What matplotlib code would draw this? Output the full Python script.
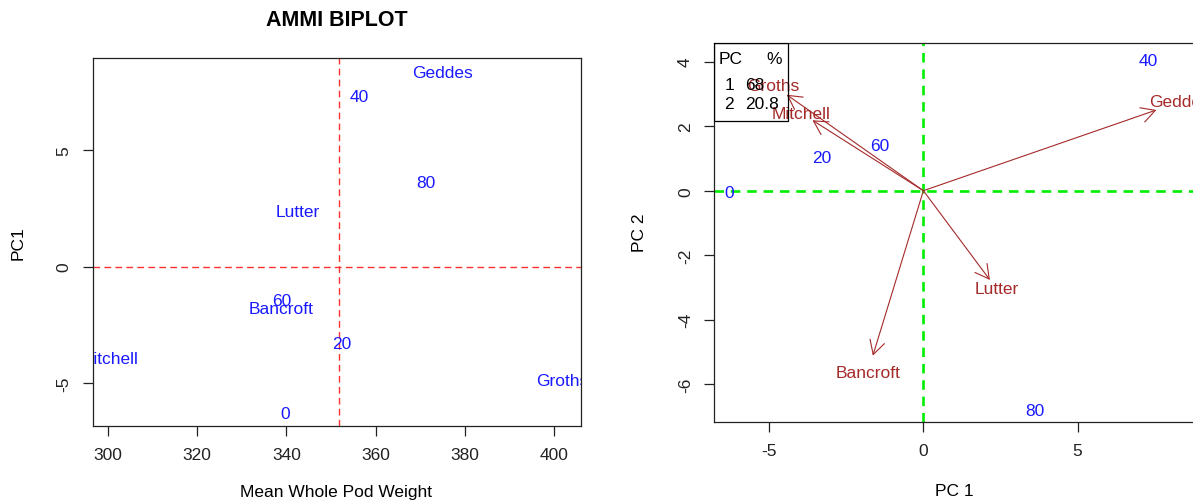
import matplotlib
matplotlib.use("Agg")
import matplotlib.pyplot as plt
from matplotlib.patches import Rectangle

plt.rcParams['font.family'] = ['Liberation Sans', 'DejaVu Sans']
plt.rcParams['font.size'] = 12.5
plt.rcParams['axes.unicode_minus'] = False

# genotypes
gen_names = ["Geddes", "Lutter", "Bancroft", "Mitchell", "Groths"]
gen_mean = [375.1, 342.5, 338.9, 300.2, 401.9]
gen_pc1 = [8.30, 2.37, -1.80, -3.95, -4.87]
gen_pc2 = [2.75, -3.04, -5.62, 2.40, 3.27]

# environments
env_names = ["0", "20", "40", "60", "80"]
env_mean = [339.8, 352.4, 356.4, 339.0, 371.2]
env_pc1 = [-6.28, -3.30, 7.30, -1.43, 3.62]
env_pc2 = [-0.06, 1.03, 4.05, 1.41, -6.80]

grand_mean = 351.9
pc_num = ["1", "2"]
pc_pct = ["68", "20.8"]

blue = "#1a1aff"
brown = "#a52a2a"


def label(ax, x, y, s, color):
    t = ax.text(x, y, s, color=color, ha="center", va="center")
    t.set_clip_box(ax.bbox)
    t.set_clip_on(True)


fig = plt.figure(figsize=(11.93, 5.02), dpi=100)

# ---- left: AMMI biplot (mean vs PC1)
ax1 = fig.add_axes([0.0776, 0.1494, 0.4090, 0.7331])
ax1.set_xlim(296.5, 406.0)
ax1.set_ylim(-6.82, 8.93)
ax1.axhline(0, color="#ff3030", lw=1.0, ls=(0, (4.8, 3.1)))
ax1.axvline(grand_mean, color="#ff3030", lw=1.0, ls=(0, (4.8, 3.1)))
for n, x, y in zip(gen_names, gen_mean, gen_pc1):
    label(ax1, x, y, n, blue)
for n, x, y in zip(env_names, env_mean, env_pc1):
    label(ax1, x, y, n, blue)
ax1.set_xticks([300, 320, 340, 360, 380, 400])
ax1.set_yticks([-5, 0, 5])
ax1.tick_params(axis="y", labelrotation=90)
for lab in ax1.get_yticklabels():
    lab.set_va("center")
ax1.tick_params(length=7, width=0.9, pad=8, colors="#222222")

fig.text(0.282, 0.96, "AMMI BIPLOT", ha="center", va="center",
         fontsize=15.5, fontweight="bold")
fig.text(336.5 / 1193, 1 - 493 / 502, "Mean Whole Pod Weight", ha="center", va="center")
fig.text(18 / 1193, 1 - 243 / 502, "PC1", ha="center", va="center", rotation=90)

# ---- right: biplot PC1 vs PC2
ax2 = fig.add_axes([0.5984, 0.1580, 0.4024, 0.7538])
ax2.set_xlim(-6.79, 8.77)
ax2.set_ylim(-7.16, 4.57)
ax2.axhline(0, color="#00ee00", lw=1.9, ls=(0, (3.6, 2.6)))
ax2.axvline(0, color="#00ee00", lw=1.9, ls=(0, (3.6, 2.6)))
for n, x, y in zip(gen_names, gen_pc1, gen_pc2):
    ax2.annotate("", xy=(x * 0.91, y * 0.91), xytext=(0, 0),
                 arrowprops=dict(arrowstyle="->,head_length=0.55,head_width=0.3",
                                 color=brown, lw=0.8, mutation_scale=18,
                                 shrinkA=0, shrinkB=0))
    label(ax2, x, y, n, brown)
for n, x, y in zip(env_names, env_pc1, env_pc2):
    label(ax2, x, y, n, blue)
ax2.set_xticks([-5, 0, 5])
ax2.set_yticks([-6, -4, -2, 0, 2, 4])
ax2.tick_params(axis="y", labelrotation=90)
for lab in ax2.get_yticklabels():
    lab.set_va("center")
ax2.tick_params(length=7, width=0.9, pad=8, colors="#222222")

# PC percentage table in the corner
ax2.add_patch(Rectangle((0, 0.794), 0.155, 0.206, transform=ax2.transAxes,
                        fill=False, lw=0.9, ec="black", zorder=5))
ax2.text(0.010, 0.9585, "PC", transform=ax2.transAxes, ha="left", va="center")
ax2.text(0.142, 0.9585, "%", transform=ax2.transAxes, ha="right", va="center")
for i, (n, p) in enumerate(zip(pc_num, pc_pct)):
    yy = 0.890 - i * 0.0504
    ax2.text(0.0315, yy, n, transform=ax2.transAxes, ha="center", va="center")
    ax2.text(0.0648, yy, p, transform=ax2.transAxes, ha="left", va="center")

fig.text(954 / 1193, 1 - 492 / 502, "PC 1", ha="center", va="center")
fig.text(640 / 1193, 1 - 233 / 502, "PC 2", ha="center", va="center", rotation=90)

for ax in (ax1, ax2):
    for s in ax.spines.values():
        s.set_linewidth(0.9)
        s.set_color("#222222")

fig.savefig("out.png", dpi=100)
